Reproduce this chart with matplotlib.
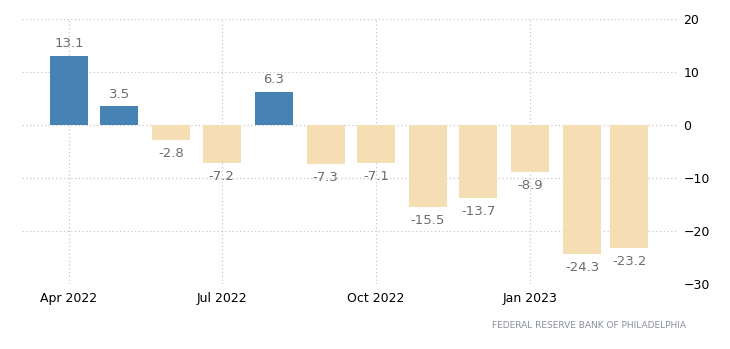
import numpy as np
import pandas as pd
import matplotlib.pyplot as plt
import matplotlib.dates as mdates

months = pd.date_range('2022-04-01', '2023-03-01', freq='MS')
values = [13.1, 3.5, -2.8, -7.2, 6.3, -7.3, -7.1, -15.5, -13.7, -8.9, -24.3, -23.2]
tick_dates = pd.to_datetime(['2022-04-01', '2022-07-01', '2022-10-01', '2023-01-01'])
tick_labels = ['Apr 2022', 'Jul 2022', 'Oct 2022', 'Jan 2023']
source = 'FEDERAL RESERVE BANK OF PHILADELPHIA'

fig = plt.figure(figsize=(7.3, 3.49), dpi=100)
ax = fig.add_axes([0.0301, 0.1862, 0.8987, 0.7594])

colors = ['#4682B4' if v >= 0 else '#F5DEB3' for v in values]
ax.bar(months, values, width=22.6, color=colors, zorder=2)

for d, v in zip(months, values):
    if v >= 0:
        ax.annotate(f'{v:.1f}', (d, v), xytext=(0, 4), textcoords='offset points',
                    ha='center', va='bottom', fontsize=9.5, color='#6d6d6d')
    else:
        ax.annotate(f'{v:.1f}', (d, v), xytext=(0, -5), textcoords='offset points',
                    ha='center', va='top', fontsize=9.5, color='#6d6d6d')

ax.set_ylim(-30, 20)
ax.set_yticks([-30, -20, -10, 0, 10, 20])
ax.set_xlim(pd.Timestamp('2022-03-04'), pd.Timestamp('2023-03-30'))
ax.set_xticks(tick_dates)
ax.set_xticklabels(tick_labels)

ax.yaxis.tick_right()
ax.tick_params(axis='both', length=0, labelsize=9, colors='black')
ax.tick_params(axis='y', pad=4)
ax.tick_params(axis='x', pad=6)
ax.grid(True, linestyle=(0, (1, 2)), color='#c8c8c8', linewidth=0.9, zorder=0)
for s in ax.spines.values():
    s.set_visible(False)

fig.text(0.94, 0.068, source, ha='right', va='center', fontsize=6.5, color='#8a8f99')

fig.savefig('out.png', dpi=100)
